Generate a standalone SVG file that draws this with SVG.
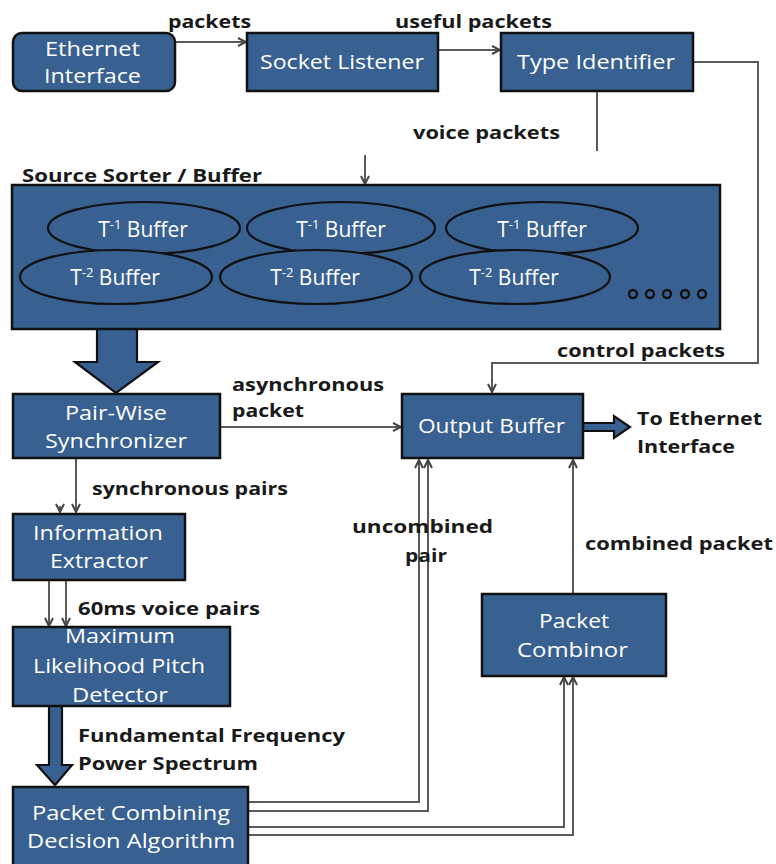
<svg xmlns="http://www.w3.org/2000/svg" width="776" height="864" viewBox="0 0 776 864">
<defs>
<style>
.box{fill:#386091;stroke:#111;stroke-width:2.5}
.ell{fill:#386091;stroke:#111;stroke-width:2.2}
.nt{font-family:"Open Sans","Liberation Sans",sans-serif;font-size:20px;fill:#fff}
.bt{font-family:"Open Sans","Liberation Sans",sans-serif;font-size:21px;fill:#fff}
.lb{font-family:"Open Sans","Liberation Sans",sans-serif;font-size:18px;font-weight:bold;fill:#1a1a1a}
.ln{fill:none;stroke:#5a5a5a;stroke-width:2}
.blk{fill:#386091;stroke:#111;stroke-width:2.2;stroke-linejoin:miter}
</style>
<marker id="ah" viewBox="0 0 10 10" refX="9" refY="5" markerWidth="5" markerHeight="5" orient="auto" markerUnits="strokeWidth">
<path d="M1,1 L9,5 L1,9" fill="none" stroke="#444" stroke-width="2"/>
</marker>
</defs>
<rect width="776" height="864" fill="#fff"/>

<g id="connectors">
<line class="ln" x1="175" y1="42" x2="246" y2="42" marker-end="url(#ah)"/>
<line class="ln" x1="438" y1="50" x2="500" y2="50" marker-end="url(#ah)"/>
<polyline class="ln" points="693,62 758,62 758,363 492,363 492,392" marker-end="url(#ah)"/>
<line class="ln" x1="597" y1="91" x2="597" y2="151"/>
<line class="ln" x1="365" y1="155" x2="365" y2="184" marker-end="url(#ah)"/>
<line class="ln" x1="221" y1="427" x2="401" y2="427" marker-end="url(#ah)"/>
<line class="ln" x1="76" y1="459" x2="76" y2="512" marker-end="url(#ah)"/>
<line class="ln" x1="60" y1="506" x2="60" y2="512" marker-end="url(#ah)"/>
<line class="ln" x1="49" y1="580" x2="49" y2="626" marker-end="url(#ah)"/>
<line class="ln" x1="66" y1="580" x2="66" y2="626" marker-end="url(#ah)"/>
<polyline class="ln" points="248,802 419,802 419,460" marker-end="url(#ah)"/>
<polyline class="ln" points="248,811 428,811 428,460" marker-end="url(#ah)"/>
<polyline class="ln" points="248,827 564,827 564,677" marker-end="url(#ah)"/>
<polyline class="ln" points="248,835 573,835 573,677" marker-end="url(#ah)"/>
<line class="ln" x1="573" y1="594" x2="573" y2="460" marker-end="url(#ah)"/>
<polygon class="blk" points="97,329 137,329 137,362 158,362 116,393 75,362 97,362"/>
<polygon class="blk" points="49,706 62,706 62,765 72,765 55,785 37,765 49,765"/>
<polygon class="blk" points="583,423 614,423 614,416 630,427 614,438 614,431 583,431"/>
</g>

<g id="labels">
<text class="lb" x="168" y="28" textLength="83" lengthAdjust="spacingAndGlyphs">packets</text>
<text class="lb" x="395" y="28" textLength="157" lengthAdjust="spacingAndGlyphs">useful packets</text>
<text class="lb" x="413" y="139" textLength="147" lengthAdjust="spacingAndGlyphs">voice packets</text>
<text class="lb" x="22" y="182" textLength="240" lengthAdjust="spacingAndGlyphs">Source Sorter / Buffer</text>
<text class="lb" x="557" y="357" textLength="168" lengthAdjust="spacingAndGlyphs">control packets</text>
<text class="lb" x="232" y="391" textLength="152" lengthAdjust="spacingAndGlyphs">asynchronous</text>
<text class="lb" x="232" y="417" textLength="72" lengthAdjust="spacingAndGlyphs">packet</text>
<text class="lb" x="637" y="425" textLength="125" lengthAdjust="spacingAndGlyphs">To Ethernet</text>
<text class="lb" x="637" y="453" textLength="98" lengthAdjust="spacingAndGlyphs">Interface</text>
<text class="lb" x="92" y="495" textLength="196" lengthAdjust="spacingAndGlyphs">synchronous pairs</text>
<text class="lb" x="352" y="533" textLength="141" lengthAdjust="spacingAndGlyphs">uncombined</text>
<text class="lb" x="405" y="562" textLength="42" lengthAdjust="spacingAndGlyphs">pair</text>
<text class="lb" x="585" y="550" textLength="188" lengthAdjust="spacingAndGlyphs">combined packet</text>
<text class="lb" x="78" y="615" textLength="182" lengthAdjust="spacingAndGlyphs">60ms voice pairs</text>
<text class="lb" x="78" y="742" textLength="267" lengthAdjust="spacingAndGlyphs">Fundamental Frequency</text>
<text class="lb" x="78" y="770" textLength="180" lengthAdjust="spacingAndGlyphs">Power Spectrum</text>
</g>

<g id="ethernet-interface">
<rect class="box" x="13" y="33" width="162" height="58" rx="9"/>
<text class="nt" x="45" y="56" textLength="95" lengthAdjust="spacingAndGlyphs">Ethernet</text>
<text class="nt" x="44" y="83" textLength="97" lengthAdjust="spacingAndGlyphs">Interface</text>
</g>
<g id="socket-listener">
<rect class="box" x="247" y="33" width="191" height="58"/>
<text class="nt" x="260" y="69" textLength="164" lengthAdjust="spacingAndGlyphs">Socket Listener</text>
</g>
<g id="type-identifier">
<rect class="box" x="501" y="33" width="192" height="58"/>
<text class="nt" x="517" y="69" textLength="158" lengthAdjust="spacingAndGlyphs">Type Identifier</text>
</g>

<g id="source-sorter">
<rect class="box" x="12" y="185" width="708" height="144"/>
<ellipse class="ell" cx="144" cy="228" rx="96" ry="26"/>
<ellipse class="ell" cx="341" cy="228" rx="94" ry="26"/>
<ellipse class="ell" cx="542" cy="228" rx="96" ry="26"/>
<ellipse class="ell" cx="116" cy="277" rx="96" ry="27"/>
<ellipse class="ell" cx="316" cy="277" rx="96" ry="27"/>
<ellipse class="ell" cx="515" cy="277" rx="95" ry="27"/>
<text class="bt" x="143" y="237" text-anchor="middle">T<tspan font-size="13" dy="-8">-1</tspan><tspan dy="8"> Buffer</tspan></text>
<text class="bt" x="341" y="237" text-anchor="middle">T<tspan font-size="13" dy="-8">-1</tspan><tspan dy="8"> Buffer</tspan></text>
<text class="bt" x="542" y="237" text-anchor="middle">T<tspan font-size="13" dy="-8">-1</tspan><tspan dy="8"> Buffer</tspan></text>
<text class="bt" x="115" y="285" text-anchor="middle">T<tspan font-size="13" dy="-8">-2</tspan><tspan dy="8"> Buffer</tspan></text>
<text class="bt" x="315" y="285" text-anchor="middle">T<tspan font-size="13" dy="-8">-2</tspan><tspan dy="8"> Buffer</tspan></text>
<text class="bt" x="514" y="285" text-anchor="middle">T<tspan font-size="13" dy="-8">-2</tspan><tspan dy="8"> Buffer</tspan></text>
<g fill="none" stroke="#111" stroke-width="2.4">
<circle cx="633" cy="294" r="4"/>
<circle cx="650" cy="294" r="4"/>
<circle cx="667" cy="294" r="4"/>
<circle cx="685" cy="294" r="4"/>
<circle cx="702" cy="294" r="4"/>
</g>
</g>

<g id="pair-wise-synchronizer">
<rect class="box" x="13" y="394" width="207" height="64"/>
<text class="nt" x="116" y="420" text-anchor="middle" textLength="102" lengthAdjust="spacingAndGlyphs">Pair-Wise</text>
<text class="nt" x="116" y="448" text-anchor="middle" textLength="142" lengthAdjust="spacingAndGlyphs">Synchronizer</text>
</g>
<g id="output-buffer">
<rect class="box" x="402" y="394" width="181" height="64"/>
<text class="nt" x="418" y="433" textLength="147" lengthAdjust="spacingAndGlyphs">Output Buffer</text>
</g>
<g id="information-extractor">
<rect class="box" x="13" y="514" width="172" height="66"/>
<text class="nt" x="33" y="540" textLength="130" lengthAdjust="spacingAndGlyphs">Information</text>
<text class="nt" x="50" y="568" textLength="98" lengthAdjust="spacingAndGlyphs">Extractor</text>
</g>
<g id="pitch-detector">
<rect class="box" x="13" y="627" width="217" height="79"/>
<text class="nt" x="65" y="643" textLength="110" lengthAdjust="spacingAndGlyphs">Maximum</text>
<text class="nt" x="33" y="673" textLength="172" lengthAdjust="spacingAndGlyphs">Likelihood Pitch</text>
<text class="nt" x="72" y="702" textLength="96" lengthAdjust="spacingAndGlyphs">Detector</text>
</g>
<g id="packet-combinor">
<rect class="box" x="482" y="594" width="184" height="82"/>
<text class="nt" x="539" y="628" textLength="70" lengthAdjust="spacingAndGlyphs">Packet</text>
<text class="nt" x="517" y="657" textLength="111" lengthAdjust="spacingAndGlyphs">Combinor</text>
</g>
<g id="decision-algorithm">
<rect class="box" x="13" y="787" width="235" height="80"/>
<text class="nt" x="32" y="820" textLength="198" lengthAdjust="spacingAndGlyphs">Packet Combining</text>
<text class="nt" x="27" y="848" textLength="208" lengthAdjust="spacingAndGlyphs">Decision Algorithm</text>
</g>
</svg>
